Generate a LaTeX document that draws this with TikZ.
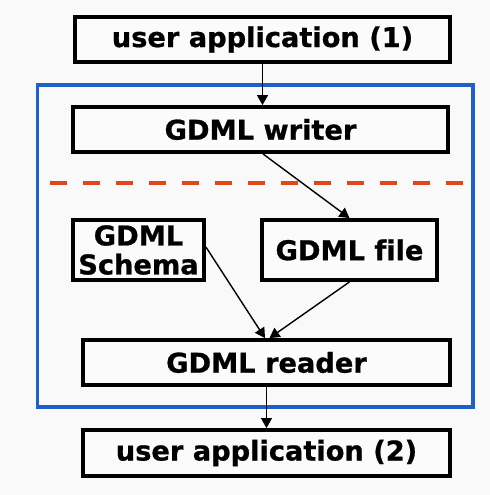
\documentclass[tikz,border=0pt]{standalone}
\usepackage{fontspec}
\setmainfont{DejaVu Sans}[Ligatures=NoCommon, BoldFeatures={FakeBold=0.8}]
\usetikzlibrary{arrows.meta}
\definecolor{frameblue}{HTML}{1F5FC8}
\definecolor{cutred}{HTML}{E0461C}

\begin{document}
\begin{tikzpicture}[x=0.02cm, y=-0.02cm, >={Triangle[length=0.2cm, width=0.22cm]},
	line cap=butt, line join=miter,
	font=\fontsize{15.5}{18.5}\selectfont\bfseries,
	block/.style={draw=black, line width=2.2pt, fill=white!60!gray!8, inner sep=0pt, align=center},
	flow/.style={->, line width=0.8pt}]
	
	% page background
	\fill[gray!5] (0,0) rectangle (490,495);
	\useasboundingbox (0,0) rectangle (490,495);
	
	%========================
	% GDML package frame
	%========================
	\draw[frameblue, line width=2.2pt] (37.5,85) rectangle (473,407);
	% writer / reader split
	\draw[cutred, line width=2.2pt, dash pattern=on 0.35cm off 0.31cm] (50,183) -- (464,183);
	
	%========================
	% blocks
	%========================
	\node[block, minimum width=7.5cm, minimum height=0.9cm] (app1) at (262.5,39.5) {user application (1)};
	\node[block, minimum width=7.5cm, minimum height=0.9cm] (writer) at (260.5,129.5) {GDML writer};
	\node[block, minimum width=2.62cm, minimum height=1.2cm] (schema) at (138.5,250) {GDML\\[-2pt]Schema};
	\node[block, minimum width=3.5cm, minimum height=1.2cm] (file) at (349.5,250) {GDML file};
	\node[block, minimum width=7.34cm, minimum height=0.9cm] (reader) at (266.5,362.5) {GDML reader};
	\node[block, minimum width=7.34cm, minimum height=0.92cm] (app2) at (266.5,453) {user application (2)};
	
	%========================
	% data flow
	%========================
	\draw[flow] (app1.south) -- (app1.south |- writer.north);
	\draw[flow] ([xshift=0.05cm]writer.south) -- (file.north);
	\draw[flow] ([yshift=0.06cm]schema.east) -- ([xshift=-0.03cm]reader.north);
	\draw[flow] (file.south) -- ([xshift=0.06cm]reader.north);
	\draw[flow] (reader.south) -- (app2.north);
	
\end{tikzpicture}
\end{document}
